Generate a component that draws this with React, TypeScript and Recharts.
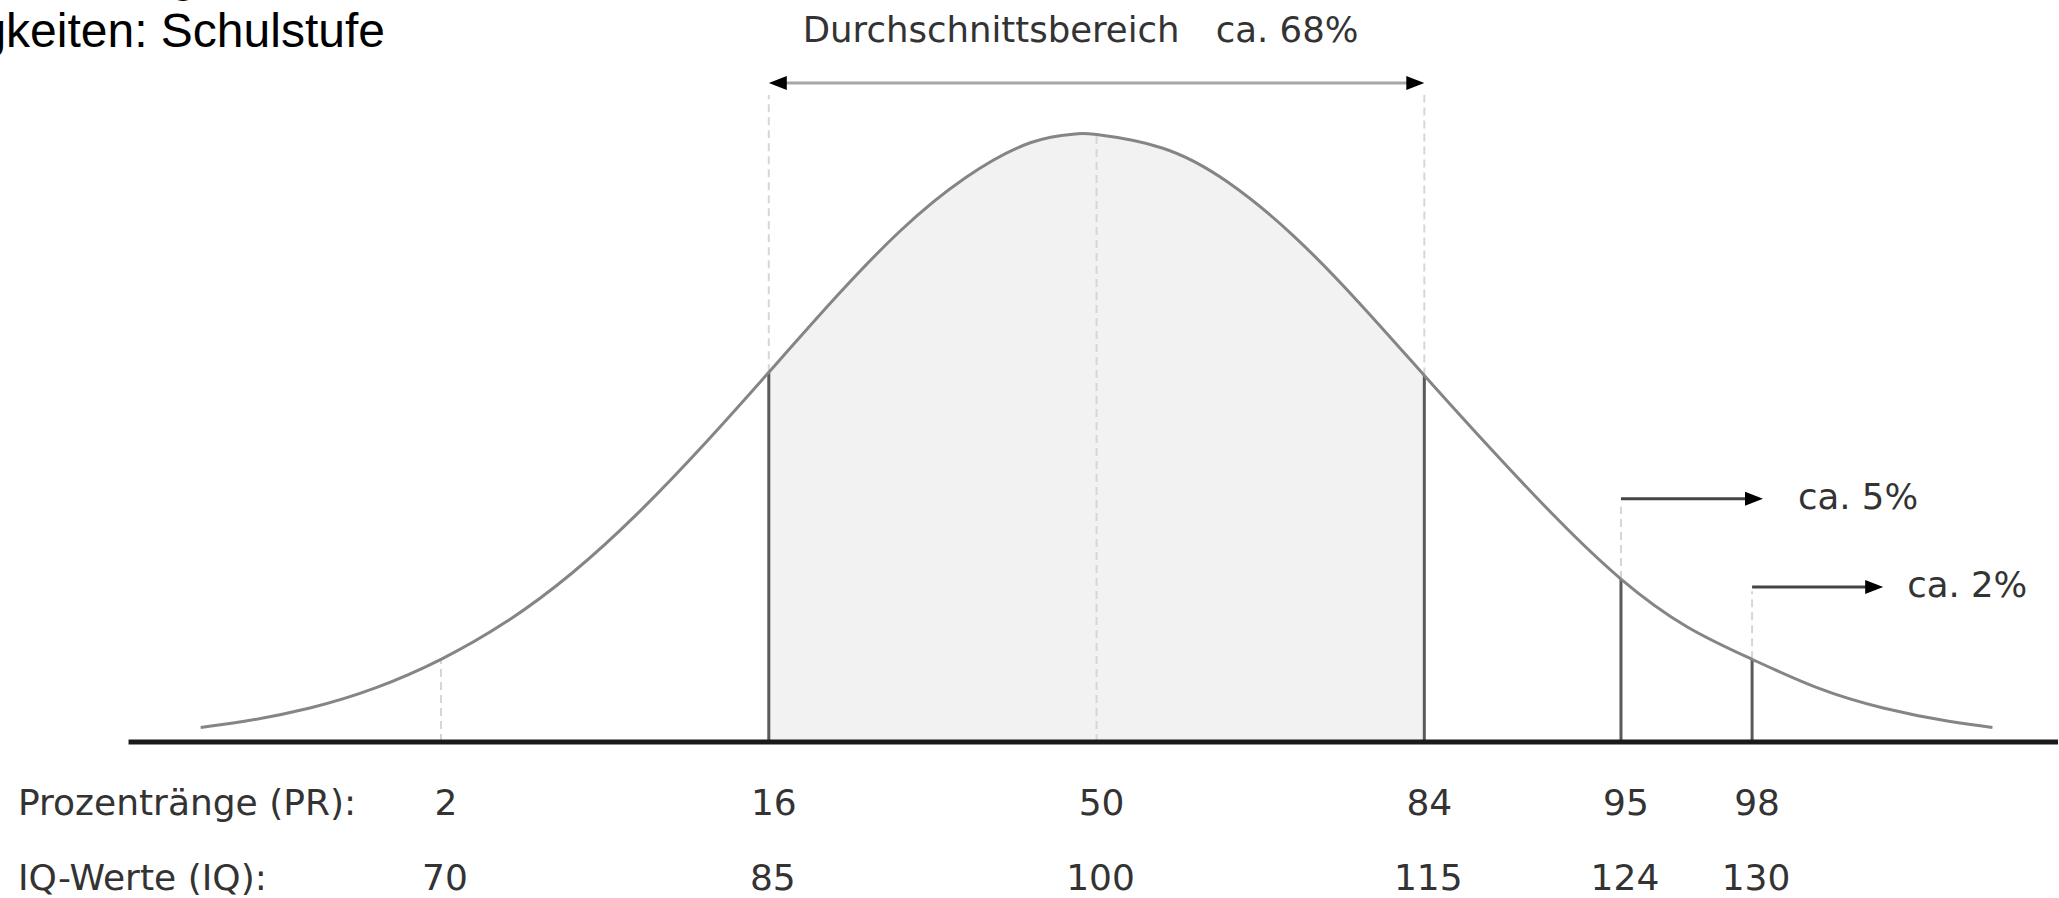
import React from 'react';
import { ComposedChart, Area, Line, XAxis, YAxis, ReferenceLine } from 'recharts';

// IQ positions of the curve points and the curve height there (peak = 100)
const iqPoints = [59, 61, 64, 67, 70, 73, 76, 79, 82, 85, 88, 91, 94, 97, 99, 100, 103, 106, 109, 112, 115, 118, 121, 124, 127, 130, 133, 136, 139, 141];
const curveHeights = [2.4, 3.4, 5.6, 8.9, 13.6, 19.8, 27.8, 37.6, 48.8, 60.8, 72.9, 84.0, 92.8, 98.6, 100, 99.9, 97.7, 92.1, 83.3, 72.3, 60.3, 48.4, 37.0, 26.8, 19.0, 13.6, 8.9, 5.6, 3.4, 2.4];

// tick rows under the axis
const tickIQ = [70, 85, 100, 115, 124, 130];
const tickPR = [2, 16, 50, 84, 95, 98];

const solidIQ = [85, 115, 124, 130];
const dashedIQ = [70, 100];
const averageRange = [85, 115];
const averageLevel = 108.4;
const averageDashTop = 106.4;

const tailFrom = [124, 130];
const tailTo = [130.5, 136];
const tailLevel = [40, 25.5];
const tailDashTop = [38.7, 24.8];
const tailLabels = ['ca. 5%', 'ca. 2%'];

const baselineFrom = 55.7;
const xDomain = [50, 144];

const data = iqPoints.map((iq, i) => ({
  iq,
  curve: curveHeights[i],
  band: iq >= averageRange[0] && iq <= averageRange[1] ? curveHeights[i] : null,
}));

const heightAt = (iq: number) => curveHeights[iqPoints.indexOf(iq)];

const FONT = '"DejaVu Sans", Verdana, sans-serif';
const TEXT = '#333';
const TITLE_FONT = '48px "Liberation Sans", Arial, sans-serif';

const PrTick = (props: any) => {
  const { x, y, payload } = props;
  const idx = tickIQ.indexOf(payload.value);
  return (
    <text x={x + 5} y={y + 73} textAnchor="middle" fontFamily={FONT} fontSize={36} fill={TEXT}>
      {tickPR[idx]}
    </text>
  );
};

const IqTick = (props: any) => {
  const { x, y, payload } = props;
  return (
    <text x={x + 4} y={y + 73} textAnchor="middle" fontFamily={FONT} fontSize={36} fill={TEXT}>
      {payload.value}
    </text>
  );
};

const makeArrow = (color: string, both: boolean) => (p: any) => {
  const { x1, y1, x2 } = p;
  const L = 18;
  const H = 7;
  const left = Math.min(x1, x2);
  const right = Math.max(x1, x2);
  const y = y1;
  return (
    <g>
      <line x1={both ? left + L - 2 : left} y1={y} x2={right - L + 2} y2={y} stroke={color} strokeWidth={3} />
      <polygon points={`${right},${y} ${right - L},${y - H} ${right - L},${y + H}`} fill="#000" />
      {both && <polygon points={`${left},${y} ${left + L},${y - H} ${left + L},${y + H}`} fill="#000" />}
    </g>
  );
};

const averageLabel = (p: any) => {
  const vb = p.viewBox;
  return (
    <g>
      <text x={vb.x + 34} y={vb.y - 41} fontFamily={FONT} fontSize={35.5} fill={TEXT}>Durchschnittsbereich</text>
      <text x={vb.x + 447} y={vb.y - 41} fontFamily={FONT} fontSize={35.5} fill={TEXT}>ca. 68%</text>
    </g>
  );
};

const tailLabel = (text: string, gap: number) => (p: any) => {
  const vb = p.viewBox;
  return (
    <text x={vb.x + vb.width + gap} y={vb.y + 10} fontFamily={FONT} fontSize={35.5} fill={TEXT}>{text}</text>
  );
};

const dash = { stroke: '#d6d6d6', strokeWidth: 2, strokeDasharray: '8 5' };

export default function App() {
  return (
    <div style={{ position: 'absolute', left: 0, top: 0, width: 2059, height: 898, overflow: 'hidden', background: '#fff' }}>
      <div style={{ position: 'absolute', left: -166, top: -49, font: TITLE_FONT, lineHeight: '48px', color: '#000', whiteSpace: 'nowrap' }}>
        Normalverteilung
      </div>
      <div style={{ position: 'absolute', left: -114, top: 7, font: TITLE_FONT, lineHeight: '48px', color: '#000', whiteSpace: 'nowrap' }}>
        Fähigkeiten: Schulstufe
      </div>
      <div style={{ position: 'absolute', left: 18, top: 785, fontFamily: FONT, fontSize: 36, lineHeight: '36px', color: TEXT, whiteSpace: 'nowrap' }}>
        Prozentränge (PR):
      </div>
      <div style={{ position: 'absolute', left: 18, top: 860, fontFamily: FONT, fontSize: 36, lineHeight: '36px', color: TEXT, whiteSpace: 'nowrap' }}>
        IQ-Werte (IQ):
      </div>
      <div style={{ position: 'absolute', left: 0, top: 0 }}>
        <ComposedChart width={2059} height={898} data={data} margin={{ top: 12.4, right: 1, bottom: 0, left: 4 }}>
          <XAxis dataKey="iq" type="number" domain={xDomain} allowDataOverflow ticks={tickIQ} interval={0}
            axisLine={false} tickLine={false} tickSize={0} tickMargin={0} height={75} tick={PrTick} />
          <XAxis xAxisId="iq" dataKey="iq" type="number" domain={xDomain} allowDataOverflow ticks={tickIQ} interval={0}
            axisLine={false} tickLine={false} tickSize={0} tickMargin={0} height={81} tick={IqTick} />
          <YAxis hide type="number" domain={[0, 120]} allowDataOverflow />

          <Area dataKey="band" type="natural" fill="#f2f2f2" fillOpacity={1} stroke="none" isAnimationActive={false} />

          {dashedIQ.map((iq) => (
            <ReferenceLine key={`d${iq}`} segment={[{ x: iq, y: 0 }, { x: iq, y: heightAt(iq) }]} {...dash} />
          ))}
          {averageRange.map((iq) => (
            <ReferenceLine key={`a${iq}`} segment={[{ x: iq, y: heightAt(iq) }, { x: iq, y: averageDashTop }]} {...dash} />
          ))}
          {tailFrom.map((iq, i) => (
            <ReferenceLine key={`t${iq}`} segment={[{ x: iq, y: heightAt(iq) }, { x: iq, y: tailDashTop[i] }]} {...dash} />
          ))}
          {solidIQ.map((iq) => (
            <ReferenceLine key={`s${iq}`} segment={[{ x: iq, y: 0 }, { x: iq, y: heightAt(iq) }]} stroke="#5a5a5a" strokeWidth={3} />
          ))}

          <ReferenceLine segment={[{ x: baselineFrom, y: 0 }, { x: xDomain[1], y: 0 }]} stroke="#1a1a1a" strokeWidth={5} />

          <Line dataKey="curve" type="natural" stroke="#858585" strokeWidth={3} dot={false} isAnimationActive={false} />

          <ReferenceLine
            segment={[{ x: averageRange[0], y: averageLevel }, { x: averageRange[1], y: averageLevel }]}
            shape={makeArrow('#a6a6a6', true)}
            label={averageLabel}
          />
          {tailFrom.map((iq, i) => (
            <ReferenceLine
              key={`arr${iq}`}
              segment={[{ x: iq, y: tailLevel[i] }, { x: tailTo[i], y: tailLevel[i] }]}
              shape={makeArrow('#444', false)}
              label={tailLabel(tailLabels[i], i === 0 ? 35 : 24)}
            />
          ))}
        </ComposedChart>
      </div>
    </div>
  );
}
